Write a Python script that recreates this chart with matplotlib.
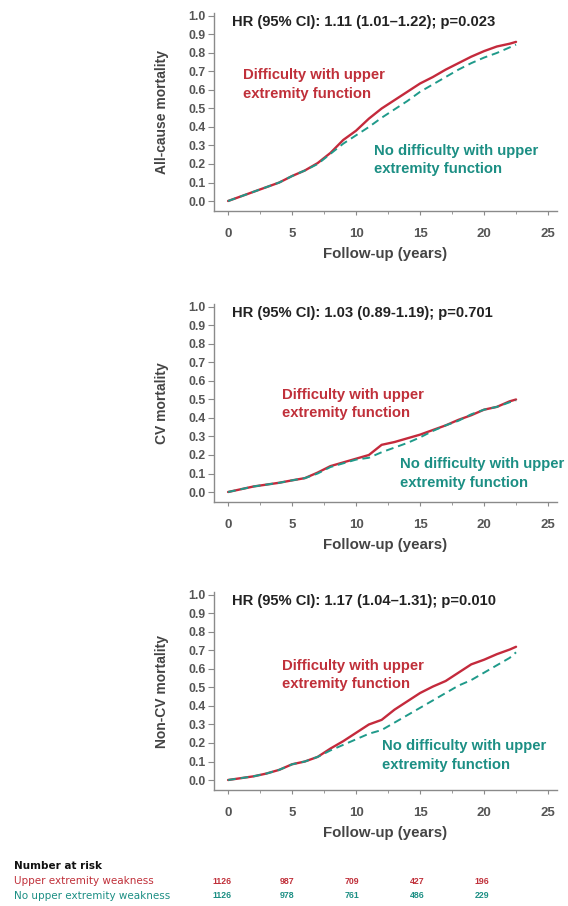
from matplotlib import pyplot as plt
import numpy as np

plt.rcParams['font.family'] = ['Liberation Sans', 'DejaVu Sans']

RED = '#c42a3c'
TEAL = '#1f9a8a'
RED_TXT = '#c0303a'
TEAL_TXT = '#1c8f84'
GREY = '#444444'

years = [0, 1, 2, 3, 4, 5, 6, 7, 8, 9, 10, 11, 12, 13, 14, 15, 16, 17, 18, 19, 20, 21, 22, 22.5]

# all-cause
all_red = [0.0, 0.025, 0.05, 0.075, 0.1, 0.135, 0.165, 0.205, 0.26, 0.33, 0.38, 0.445, 0.5, 0.545,
           0.59, 0.635, 0.67, 0.71, 0.745, 0.78, 0.81, 0.835, 0.85, 0.86]
all_teal = [0.0, 0.025, 0.05, 0.075, 0.1, 0.135, 0.165, 0.2, 0.255, 0.31, 0.355, 0.4, 0.45, 0.495,
            0.54, 0.59, 0.63, 0.67, 0.71, 0.745, 0.775, 0.8, 0.83, 0.845]

# CV
cv_red = [0.0, 0.015, 0.03, 0.04, 0.05, 0.063, 0.075, 0.105, 0.14, 0.16, 0.18, 0.2, 0.255, 0.27,
          0.29, 0.31, 0.335, 0.36, 0.39, 0.415, 0.445, 0.46, 0.49, 0.5]
cv_teal = [0.0, 0.015, 0.03, 0.04, 0.05, 0.063, 0.075, 0.1, 0.135, 0.155, 0.175, 0.185, 0.215, 0.24,
           0.265, 0.295, 0.33, 0.36, 0.385, 0.42, 0.445, 0.46, 0.485, 0.495]

# non-CV
ncv_red = [0.0, 0.01, 0.02, 0.035, 0.055, 0.085, 0.1, 0.125, 0.17, 0.21, 0.255, 0.3, 0.325, 0.38,
           0.425, 0.47, 0.505, 0.535, 0.58, 0.625, 0.65, 0.68, 0.705, 0.72]
ncv_teal = [0.0, 0.01, 0.02, 0.035, 0.055, 0.085, 0.1, 0.125, 0.16, 0.19, 0.22, 0.25, 0.27, 0.31,
            0.35, 0.39, 0.43, 0.47, 0.51, 0.54, 0.58, 0.62, 0.66, 0.69]

panels = [
  ('All-cause mortality', 'HR (95% CI): 1.11 (1.01\u20131.22); p=0.023', all_red, all_teal,
   (1.2, 0.63), (11.4, 0.22)),
  ('CV mortality', 'HR (95% CI): 1.03 (0.89-1.19); p=0.701', cv_red, cv_teal,
   (4.2, 0.475), (13.4, 0.10)),
  ('Non-CV mortality', 'HR (95% CI): 1.17 (1.04\u20131.31); p=0.010', ncv_red, ncv_teal,
   (4.2, 0.566), (12.0, 0.132)),
]

risk_labels = ['Upper extremity weakness', 'No upper extremity weakness']
risk_upper = [1126, 987, 709, 427, 196]
risk_no_upper = [1126, 978, 761, 486, 229]

W, H = 568, 906
fig = plt.figure(figsize = (W / 100, H / 100), dpi = 100)

axes_bottoms_px = [211, 502, 790]
for (ylab, hr, red, teal, pos_red, pos_teal), bpx in zip(panels, axes_bottoms_px):
  ax = fig.add_axes([214 / W, 1 - bpx / H, 343 / W, 198 / H])
  ax.plot(years, red, color = RED, lw = 1.7, solid_capstyle = 'round')
  ax.plot(years, teal, color = TEAL, lw = 1.4, dashes = (4, 2.5))
  ax.set_xlim(-1.1, 25.7)
  ax.set_ylim(-0.054, 1.016)
  ax.set_xticks([0, 5, 10, 15, 20, 25])
  ax.set_xticks([2.5, 7.5, 12.5, 17.5, 22.5], minor = True)
  ax.set_yticks(np.round(np.arange(0, 1.01, 0.1), 1))
  ax.set_yticklabels(['%.1f' % v for v in np.arange(0, 1.01, 0.1)])
  for s in ['top', 'right']:
    ax.spines[s].set_visible(False)
  for s in ['left', 'bottom']:
    ax.spines[s].set_color('#8a8a8a')
    ax.spines[s].set_linewidth(1.0)
  ax.tick_params(axis = 'both', which = 'both', color = '#8a8a8a', labelcolor = '#555555')
  ax.tick_params(axis = 'y', length = 4, pad = 2, labelsize = 8.8)
  ax.tick_params(axis = 'x', which = 'major', length = 3, pad = 9, labelsize = 9.5)
  ax.tick_params(axis = 'x', which = 'minor', length = 2)
  for lab in ax.get_xticklabels() + ax.get_yticklabels():
    lab.set_fontweight('bold')
  ax.set_ylabel(ylab, fontsize = 10, fontweight = 'bold', color = GREY, labelpad = 14)
  ax.set_xlabel('Follow-up (years)', fontsize = 10.8, fontweight = 'bold', color = GREY,
                labelpad = 5)
  ax.text(0.3, 0.965, hr, fontsize = 10.6, fontweight = 'bold', color = '#222222',
          ha = 'left', va = 'center')
  ax.text(pos_red[0], pos_red[1], 'Difficulty with upper\nextremity function', fontsize = 10.7,
          fontweight = 'bold', color = RED_TXT, ha = 'left', va = 'center', linespacing = 1.4)
  ax.text(pos_teal[0], pos_teal[1], 'No difficulty with upper\nextremity function', fontsize = 10.7,
          fontweight = 'bold', color = TEAL_TXT, ha = 'left', va = 'center', linespacing = 1.4)

# number at risk table
fig.text(14 / W, 1 - 866 / H, 'Number at risk', fontsize = 7.5, fontweight = 'bold',
         color = '#111111', ha = 'left', va = 'center', family = 'DejaVu Sans')
for row, (lab, vals, col) in enumerate(zip(risk_labels, [risk_upper, risk_no_upper],
                                           [RED_TXT, TEAL_TXT])):
  ypx = 881 + row * 15
  fig.text(14 / W, 1 - ypx / H, lab, fontsize = 7.5, color = col, ha = 'left', va = 'center',
           family = 'DejaVu Sans')
  for i, v in enumerate(vals):
    fig.text((222 + 65 * i) / W, 1 - ypx / H, str(v), fontsize = 6.3, fontweight = 'bold',
             color = col, ha = 'center', va = 'center')

fig.savefig('out.png', dpi = 100)
